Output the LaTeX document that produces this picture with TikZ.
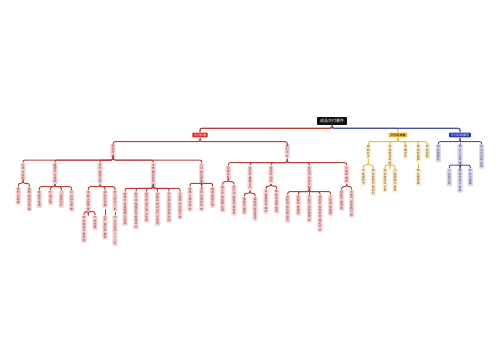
\documentclass[tikz,border=0pt]{standalone}
\usepackage{fontspec}
\setmainfont{Noto Sans CJK SC}
\XeTeXlinebreaklocale "zh"
\XeTeXlinebreakskip=0pt plus 1pt

\definecolor{rootfill}{RGB}{17,17,17}
\definecolor{brred}{RGB}{226,38,38}
\definecolor{bryel}{RGB}{240,190,40}
\definecolor{brblu}{RGB}{36,48,180}
\definecolor{linered}{RGB}{182,62,58}
\definecolor{lineyel}{RGB}{226,192,70}
\definecolor{lineblu}{RGB}{70,82,160}
\definecolor{leafpink}{RGB}{250,212,212}
\definecolor{leafyel}{RGB}{252,240,198}
\definecolor{leafblu}{RGB}{212,216,246}
\definecolor{leaftext}{RGB}{120,60,60}

\tikzset{every picture/.style={line width=0.75pt}}
\tikzset{
  leaf/.style={anchor=north, rounded corners=0.6pt, inner xsep=0.8pt, inner ysep=0.7pt,
    text width=2.3pt, align=center, text=leaftext, font=\fontsize{2.2}{2.45}\selectfont},
  leafr/.style={leaf, fill=leafpink},
  leafy/.style={leaf, fill=leafyel},
  leafb/.style={leaf, fill=leafblu},
  branch/.style={rounded corners=0.6pt, inner xsep=1.2pt, inner ysep=0.8pt,
    font=\fontsize{2.3}{2.5}\selectfont},
  lnred/.style={draw=linered, rounded corners=1.5pt},
  lnyel/.style={draw=lineyel, rounded corners=1.5pt},
  lnblu/.style={draw=lineblu, rounded corners=1.5pt}
}

\begin{document}
\begin{tikzpicture}[x=0.75pt,y=0.75pt,yscale=-1,xscale=1]
	\useasboundingbox (0,0) rectangle (500,360);
	
	%Root
	\node[fill=rootfill, text=white, rounded corners=0.6pt, inner xsep=2.2pt, inner ysep=1.5pt, font=\fontsize{3}{3.2}\selectfont] (root) at (332,121) {成品交付要件};
	%Main branches
	\node[branch, fill=brred, text=white] (red) at (200,135) {交付标准};
	\node[branch, fill=bryel, text=black] (yel) at (398,135) {交付前准备};
	\node[branch, fill=brblu, text=white] (blu) at (460,135) {交付后续服务};
	
	%Bus levels
	\coordinate (b0) at (0,128.3);
	\coordinate (b1) at (0,141.7);
	\coordinate (bRL) at (0,160);
	\coordinate (bRR) at (0,162.7);
	\coordinate (bY) at (0,165);
	
	%Red, left part
	\node[leafr] (rl) at (113,143.5) {实体质量};
	\node[leafr] (ra) at (23,162.7) {主体与结构};
	\node[leafr] (ra1) at (18.3,186.7) {墙体无裂缝};
	\node[leafr] (ra2) at (29.3,186.7) {承重结构无隐患};
	\node[leafr] (rb) at (55,162.7) {屋面及外墙面};
	\node[leafr] (rb1) at (39.3,190) {屋面不渗漏};
	\node[leafr] (rb2) at (50.7,190) {外墙平整};
	\node[leafr] (rb3) at (61.3,190) {门窗密封好};
	\node[leafr] (rb4) at (71.7,190) {阳台排水顺畅};
	\node[leafr] (rc) at (100,162.7) {室内装修工程};
	\node[leafr] (rc1) at (88.3,190) {地面工程质量};
	\node[leafr] (rc1a) at (84,215) {地砖铺贴平整牢固};
	\node[leafr] (rc1b) at (95,215) {木质地板};
	\node[leafr] (rc2) at (105,190) {墙面与顶棚};
	\node[leafr] (rc2a) at (105,215) {无开裂起皮霉斑};
	\node[leafr] (rc3) at (115,190) {厨卫防水工程};
	\node[leafr] (rc3a) at (115,215) {闭水试验四十八小时};
	\node[leafr] (rd) at (153.3,162.7) {水电暖设备安装};
	\node[leafr] (rd1) at (125,191.5) {给排水管道通畅无渗漏};
	\node[leafr] (rd2) at (136,191.5) {电气线路规范且绝缘良好};
	\node[leafr] (rd3) at (146.7,191.5) {燃气管道已通过验收};
	\node[leafr] (rd4) at (157.7,191.5) {供暖系统试运行无异常};
	\node[leafr] (rd5) at (169,191.5) {开关插座均安装牢固};
	\node[leafr] (rd6) at (180,191.5) {灯具照明功能正常};
	\node[leafr] (re) at (201.7,162.7) {公共部位配套};
	\node[leafr] (re1) at (190,186.7) {电梯已通过验收};
	\node[leafr] (re2) at (201.7,186.7) {消防设施均有效};
	\node[leafr] (re3) at (212.7,186.7) {楼道照明正常};
	
	%Red, right part
	\node[leafr] (rr) at (287.3,143.5) {资料文件};
	\node[leafr] (rf) at (228.3,165.3) {权属文件};
	\node[leafr] (rf1) at (222.7,184.5) {竣工验收备案证明};
	\node[leafr] (rf2) at (234,184.5) {房产测绘面积报告书};
	\node[leafr] (rg) at (250,165.3) {住宅质量保证书};
	\node[leafr] (rg1) at (244.3,196.5) {保修范围表};
	\node[leafr] (rg2) at (255,196.5) {保修期限及责任};
	\node[leafr] (rh) at (271,165.3) {使用说明书};
	\node[leafr] (rh1) at (266,189) {设备使用及维护};
	\node[leafr] (rh2) at (276.7,189) {装修改造限制项};
	\node[leafr] (ri) at (309.3,165.3) {各专项验收资料};
	\node[leafr] (ri1) at (287.7,194.5) {消防验收合格意见};
	\node[leafr] (ri2) at (298.3,194.5) {环保验收报告};
	\node[leafr] (ri3) at (309.3,194.5) {节能专项验收报告};
	\node[leafr] (ri4) at (320,194.5) {规划条件核实合格证明书};
	\node[leafr] (ri5) at (330.7,194.5) {人防验收备案};
	\node[leafr] (rj) at (346.7,165.3) {交接单据类};
	\node[leafr] (rj1) at (341.7,189.5) {钥匙交接清单};
	\node[leafr] (rj2) at (351.7,189.5) {水电气表底数记录};
	
	%Yellow part
	\node[leafy] (ya) at (368.3,144) {通知业主};
	\node[leafy] (ya1) at (363.3,168) {书面通知书};
	\node[leafy] (ya2) at (373.3,168) {提前告知所需材料};
	\node[leafy] (yb) at (390,144) {现场查验房屋};
	\node[leafy] (yb1) at (385,168) {逐项查验并记录};
	\node[leafy] (yb2) at (395,168) {问题限期内整改};
	\node[leafy] (yc) at (405.5,144) {签署文件};
	\node[leafy] (yd) at (418.3,144) {费用的结算};
	\node[leafy] (yd1) at (418.3,168) {物业费预缴};
	\node[leafy] (ye) at (427.3,144) {领取钥匙};
	
	%Blue part
	\node[leafb] (za) at (438.3,144) {保修期服务};
	\node[leafb] (zb) at (460,144) {物业入驻管理};
	\node[leafb] (zb1) at (449.3,168) {入住登记表};
	\node[leafb] (zb2) at (460,168) {装修申请与审批};
	\node[leafb] (zb3) at (470.3,168) {车位与储藏};
	\node[leafb] (zc) at (481.7,144) {投诉与问题反馈};
	
	%Connectors from root
	\draw[lnred, line width=1pt] (root.south) -- (root.south |- b0) -| (red.north);
	\draw[lnyel, line width=1pt] (root.south) -- (root.south |- b0) -| (yel.north);
	\draw[lnblu, line width=1pt] (root.south) -- (root.south |- b0) -| (blu.north);
	
	%Connectors, red
	\foreach \c in {rl,rr} \draw[lnred] (red.south) -- (red.south |- b1) -| (\c.north);
	\foreach \c in {ra,rb,rc,rd,re} \draw[lnred] (rl.south) -- (rl.south |- bRL) -| (\c.north);
	\foreach \c in {rf,rg,rh,ri,rj} \draw[lnred] (rr.south) -- (rr.south |- bRR) -| (\c.north);
	\foreach \c in {ra1,ra2} \draw[lnred] (ra.south) -- (ra.south |- 0,183.3) -| (\c.north);
	\foreach \c in {rb1,rb2,rb3,rb4} \draw[lnred] (rb.south) -- (rb.south |- 0,186.7) -| (\c.north);
	\foreach \c in {rc1,rc2,rc3} \draw[lnred] (rc.south) -- (rc.south |- 0,186.7) -| (\c.north);
	\foreach \c in {rc1a,rc1b} \draw[lnred] (rc1.south) -- (rc1.south |- 0,211.7) -| (\c.north);
	\draw[lnred] (rc2.south) -- (rc2a.north);
	\draw[lnred] (rc3.south) -- (rc3a.north);
	\foreach \c in {rd1,rd2,rd3,rd4,rd5,rd6} \draw[lnred] (rd.south) -- (rd.south |- 0,188.3) -| (\c.north);
	\foreach \c in {re1,re2,re3} \draw[lnred] (re.south) -- (re.south |- 0,183.3) -| (\c.north);
	\foreach \c in {rf1,rf2} \draw[lnred] (rf.south) -- (rf.south |- 0,181.7) -| (\c.north);
	\foreach \c in {rg1,rg2} \draw[lnred] (rg.south) -- (rg.south |- 0,193.3) -| (\c.north);
	\foreach \c in {rh1,rh2} \draw[lnred] (rh.south) -- (rh.south |- 0,186) -| (\c.north);
	\foreach \c in {ri1,ri2,ri3,ri4,ri5} \draw[lnred] (ri.south) -- (ri.south |- 0,191.7) -| (\c.north);
	\foreach \c in {rj1,rj2} \draw[lnred] (rj.south) -- (rj.south |- 0,186.7) -| (\c.north);
	
	%Connectors, yellow
	\foreach \c in {ya,yb,yc,yd,ye} \draw[lnyel] (yel.south) -- (yel.south |- b1) -| (\c.north);
	\foreach \c in {ya1,ya2} \draw[lnyel] (ya.south) -- (ya.south |- bY) -| (\c.north);
	\foreach \c in {yb1,yb2} \draw[lnyel] (yb.south) -- (yb.south |- bY) -| (\c.north);
	\draw[lnyel] (yd.south) -- (yd1.north);
	
	%Connectors, blue
	\foreach \c in {za,zb,zc} \draw[lnblu] (blu.south) -- (blu.south |- b1) -| (\c.north);
	\foreach \c in {zb1,zb2,zb3} \draw[lnblu] (zb.south) -- (zb.south |- bY) -| (\c.north);
	
\end{tikzpicture}
\end{document}
